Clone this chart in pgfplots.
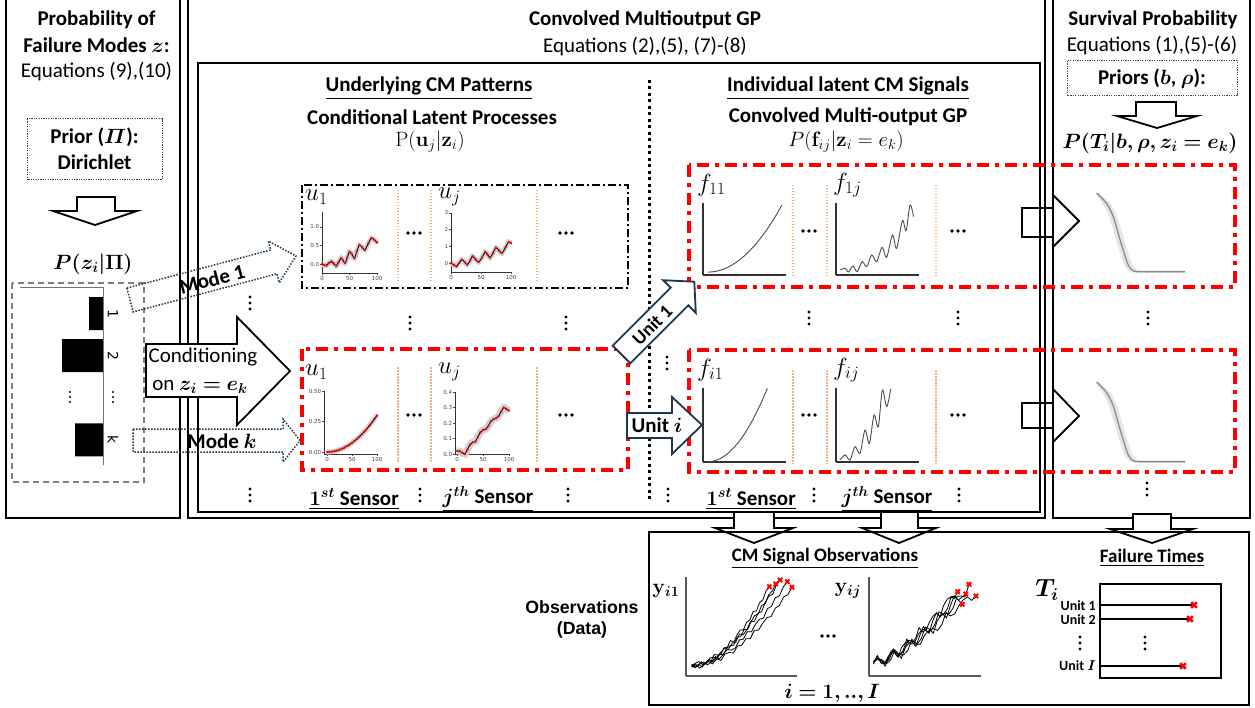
\documentclass[border=0pt]{standalone}
\usepackage{amsmath}
\usepackage{bm}
\usepackage[no-math]{fontspec}
\setmainfont{Carlito}
\newfontfamily\arialfont{Liberation Sans}
\newfontfamily\dejavu{DejaVu Sans}
\usepackage{pgfplots}
\pgfplotsset{compat=1.18}
\usepackage{pgfplotstable}

\definecolor{navy}{RGB}{31,56,80}
\definecolor{lorange}{RGB}{244,177,131}
\definecolor{bandgray}{RGB}{208,208,208}

\newcommand\F[1]{\fontsize{#1}{#1}\selectfont}
% vertical and horizontal ellipsis marks
\def\vd(#1,#2){\fill (#1,#2-6) circle[radius=1.7pt] (#1,#2) circle[radius=1.7pt] (#1,#2+6) circle[radius=1.7pt];}
\def\hd(#1,#2){\fill (#1-6,#2) circle[radius=1.8pt] (#1,#2) circle[radius=1.8pt] (#1+6,#2) circle[radius=1.8pt];}

% latent process u_1, mode 1
\pgfplotstableread{
x y
0 0.00
4 -0.03
8 -0.04
12 0.02
17 0.07
21 0.02
26 -0.05
30 0.05
35 0.16
38 0.10
42 0.03
46 0.18
50 0.33
54 0.27
59 0.16
63 0.33
68 0.51
73 0.45
78 0.38
84 0.55
90 0.70
95 0.65
100 0.58
}\uoneA
% latent process u_j, mode 1
\pgfplotstableread{
x y
0 0.00
5 -0.12
9 -0.20
14 0.02
18 0.20
23 0.05
27 -0.10
32 0.15
36 0.40
41 0.22
46 0.06
52 0.35
57 0.66
61 0.50
65 0.32
70 0.60
75 0.92
80 0.75
85 0.60
91 0.95
96 1.26
100 1.20
}\ujA
% latent process u_1, mode k
\pgfplotstableread{
x y
0 0.000
5 0.001
10 0.003
15 0.007
20 0.012
25 0.019
30 0.027
35 0.037
40 0.048
45 0.061
50 0.075
55 0.091
60 0.108
65 0.127
70 0.147
75 0.169
80 0.192
85 0.217
90 0.243
95 0.271
100 0.300
}\uoneB
% latent process u_j, mode k
\pgfplotstableread{
x y
0 0.020
5 0.018
10 0.008
15 0.000
20 0.030
25 0.060
30 0.075
35 0.080
40 0.110
45 0.140
50 0.155
55 0.160
60 0.180
65 0.210
70 0.225
75 0.230
80 0.245
85 0.275
90 0.300
95 0.290
100 0.280
}\ujB

% observed signals, sensor 1
\pgfplotstableread{
x y
0.050 0.100
0.079 0.123
0.108 0.099
0.138 0.144
0.167 0.117
0.196 0.158
0.225 0.146
0.254 0.217
0.284 0.211
0.313 0.217
0.342 0.286
0.371 0.287
0.400 0.360
0.430 0.341
0.459 0.414
0.488 0.464
0.517 0.467
0.547 0.546
0.576 0.568
0.605 0.652
0.634 0.657
0.663 0.740
0.693 0.771
0.722 0.863
0.751 0.902
}\yA
\pgfplotstableread{
x y
0.050 0.105
0.082 0.083
0.113 0.120
0.145 0.090
0.176 0.133
0.208 0.165
0.239 0.144
0.271 0.181
0.303 0.226
0.334 0.209
0.366 0.279
0.397 0.306
0.429 0.311
0.461 0.393
0.492 0.398
0.524 0.470
0.555 0.469
0.587 0.551
0.618 0.610
0.650 0.626
0.682 0.714
0.713 0.730
0.745 0.822
0.776 0.857
0.808 0.929
}\yB
\pgfplotstableread{
x y
0.050 0.100
0.083 0.128
0.116 0.145
0.150 0.115
0.183 0.124
0.216 0.181
0.249 0.191
0.282 0.179
0.316 0.244
0.349 0.282
0.382 0.268
0.415 0.331
0.449 0.342
0.482 0.425
0.515 0.416
0.548 0.469
0.581 0.550
0.615 0.552
0.648 0.633
0.681 0.650
0.714 0.744
0.747 0.806
0.781 0.825
0.814 0.921
0.847 0.970
}\yC
\pgfplotstableread{
x y
0.050 0.120
0.086 0.088
0.122 0.120
0.158 0.140
0.194 0.114
0.230 0.141
0.266 0.195
0.302 0.173
0.338 0.228
0.374 0.266
0.410 0.261
0.446 0.285
0.482 0.365
0.517 0.373
0.553 0.448
0.589 0.446
0.625 0.521
0.661 0.573
0.697 0.583
0.733 0.680
0.769 0.704
0.805 0.791
0.841 0.809
0.877 0.900
0.913 0.953
}\yD
\pgfplotstableread{
x y
0.050 0.090
0.088 0.113
0.125 0.079
0.163 0.119
0.201 0.147
0.239 0.123
0.276 0.172
0.314 0.158
0.352 0.222
0.389 0.238
0.427 0.232
0.465 0.303
0.503 0.312
0.540 0.377
0.578 0.376
0.616 0.461
0.653 0.464
0.691 0.533
0.729 0.590
0.766 0.600
0.804 0.685
0.842 0.714
0.880 0.799
0.917 0.821
0.955 0.896
}\yE

% observed signals, sensor j
\pgfplotstableread{
x y
0.040 0.145
0.071 0.166
0.103 0.158
0.134 0.133
0.165 0.166
0.197 0.251
0.228 0.244
0.259 0.188
0.291 0.289
0.322 0.332
0.353 0.342
0.385 0.333
0.416 0.380
0.447 0.489
0.479 0.444
0.510 0.466
0.541 0.548
0.573 0.607
0.604 0.637
0.635 0.598
0.667 0.716
0.698 0.774
0.729 0.798
0.761 0.784
0.792 0.852
}\zP
\pgfplotstableread{
x y
0.040 0.120
0.073 0.206
0.106 0.133
0.139 0.123
0.172 0.201
0.205 0.231
0.238 0.239
0.271 0.208
0.304 0.254
0.337 0.372
0.370 0.322
0.404 0.328
0.437 0.415
0.470 0.464
0.503 0.474
0.536 0.431
0.569 0.558
0.602 0.637
0.635 0.602
0.668 0.628
0.701 0.681
0.734 0.804
0.767 0.803
0.800 0.764
0.833 0.724
}\zQ
\pgfplotstableread{
x y
0.040 0.150
0.074 0.176
0.109 0.168
0.143 0.098
0.177 0.191
0.212 0.266
0.246 0.204
0.280 0.218
0.315 0.264
0.349 0.362
0.383 0.352
0.418 0.298
0.452 0.405
0.486 0.499
0.521 0.444
0.555 0.461
0.589 0.523
0.624 0.647
0.658 0.627
0.692 0.588
0.727 0.711
0.761 0.809
0.795 0.768
0.830 0.794
0.864 0.828
}\zR
\pgfplotstableread{
x y
0.040 0.130
0.076 0.201
0.111 0.128
0.147 0.133
0.182 0.171
0.218 0.271
0.253 0.234
0.289 0.178
0.324 0.289
0.360 0.337
0.395 0.352
0.431 0.323
0.466 0.375
0.502 0.494
0.538 0.474
0.573 0.431
0.609 0.558
0.644 0.617
0.680 0.632
0.715 0.628
0.751 0.686
0.786 0.804
0.822 0.808
0.857 0.799
0.893 0.926
}\zS
\pgfplotstableread{
x y
0.040 0.140
0.078 0.171
0.116 0.163
0.154 0.123
0.193 0.161
0.231 0.261
0.269 0.214
0.307 0.213
0.345 0.254
0.383 0.372
0.421 0.317
0.459 0.323
0.498 0.415
0.536 0.459
0.574 0.479
0.612 0.461
0.650 0.518
0.688 0.642
0.726 0.607
0.765 0.628
0.803 0.711
0.841 0.769
0.879 0.798
0.917 0.764
0.955 0.808
}\zT

\pgfplotsset{
  gp/.style={scale only axis, anchor=south west, axis lines=left,
    axis line style={-, black!80, line width=0.8pt},
    tick align=outside, major tick length=2pt,
    tick style={black!70, line width=0.5pt},
    ticklabel style={font=\dejavu\F{5.5}, text=black!75, inner sep=0.8pt},
    /pgf/number format/assume math mode=true,
    xtick={0,50,100}, clip=false},
  sk/.style={scale only axis, anchor=south west, axis lines=left,
    axis line style={-, black!80, line width=1.1pt},
    xtick=\empty, ytick=\empty, xmin=0, xmax=1, ymin=0, ymax=1, clip=false},
  sv/.style={scale only axis, anchor=south west, hide axis,
    xmin=0, xmax=100, ymin=0, ymax=1, clip=false},
}

\begin{document}
\begin{tikzpicture}[x=1pt, y=-1pt, line join=miter]
\path[use as bounding box] (0,0) rectangle (1255,708);
\tikzset{t/.style={inner sep=0pt, anchor=center}}

% ---------- frames ----------
\draw[line width=2pt] (6,-3) -- (6,518) -- (180,518) -- (180,-3);
\draw[line width=2pt] (188,-3) -- (188,518) -- (1045,518) -- (1045,-3);
\draw[line width=2pt] (1053,-3) -- (1053,518) -- (1250,518) -- (1250,-3);
\draw[line width=2pt] (198,63) rectangle (1040,512);
\draw[line width=3pt, dash pattern=on 3pt off 3.5pt] (649,80) -- (649,502);

% right-pointing arrows into the survival panel
\draw[line width=1.8pt] (1022,208) -- (1053,208) -- (1053,195) -- (1079,221) -- (1053,247) -- (1053,237) -- (1022,237) -- cycle;
\draw[line width=1.8pt] (1022,403) -- (1053,403) -- (1053,389) -- (1079,416) -- (1053,442) -- (1053,428) -- (1022,428) -- cycle;

% ---------- left panel ----------
\node[t, font=\bfseries\F{21}] at (96.5,20) {Probability of};
\node[t, font=\bfseries\F{21}] at (96.5,45) {Failure Modes $\bm{z}$:};
\node[t, font=\F{21}] at (96.5,72) {Equations (9),(10)};
\draw[black!75, line width=1pt, dash pattern=on 1.2pt off 1.2pt] (27,119) rectangle (162,180);
\node[t, font=\bfseries\F{21}] at (94.5,137) {Prior ($\bm{\varPi}$):};
\node[t, font=\bfseries\F{21}] at (94.5,162) {Dirichlet};
\draw[line width=1.8pt, fill=white] (77,197) -- (115,197) -- (115,211) -- (137,211) -- (95,225) -- (53,211) -- (77,211) -- cycle;
\node[t, font=\F{22}] at (93,264) {$\bm{P(z_i|\Pi)}$};
\draw[black!50, line width=1.5pt, dash pattern=on 6pt off 4pt] (12,283) rectangle (144,482);

\coordinate (bz) at (20,465);
\begin{axis}[scale only axis, anchor=south west, at={(bz)}, width=83pt, height=177pt,
  hide axis, clip=false, xmin=-83, xmax=0, ymin=-4.595, ymax=-0.393]
\addplot[xbar, bar width=33pt, fill=black, draw=none] coordinates {(-14,-1) (-41,-2) (-28,-4)};
\draw[black!55, line width=1pt] (axis cs:0,-4.595) -- (axis cs:0,-0.393) -- (axis cs:-83,-0.393);
\node[rotate=-90, font=\dejavu\F{14}] at ([xshift=10pt]axis cs:0,-1) {1};
\node[rotate=-90, font=\dejavu\F{14}] at ([xshift=10pt]axis cs:0,-2) {2};
\node[rotate=-90, font=\dejavu\F{14}] at ([xshift=10pt]axis cs:0,-4) {k};
\end{axis}
\fill (113,392) circle[radius=1.1pt] (113,397) circle[radius=1.1pt] (113,402) circle[radius=1.1pt];
\fill (70,392) circle[radius=1.1pt] (70,397) circle[radius=1.1pt] (70,402) circle[radius=1.1pt];

% ---------- centre panel headings ----------
\node[t, font=\bfseries\F{21}] at (645,20) {Convolved Multioutput GP};
\node[t, font=\F{21}] at (645,47) {Equations (2),(5), (7)-(8)};
\node[t, font=\bfseries\F{21}] at (429,88) {\underline{Underlying CM Patterns}};
\node[t, font=\bfseries\F{21}] at (432,117) {Conditional Latent Processes};
\node[t, font=\F{22}] at (430,142) {$\mathrm{P}(\mathbf{u}_j|\mathbf{z}_i)$};
\node[t, font=\bfseries\F{21}] at (848,88) {\underline{Individual latent CM Signals}};
\node[t, font=\bfseries\F{21}] at (848,117) {Convolved Multi-output GP};
\node[t, font=\F{22}] at (846,142) {$P(\mathbf{f}_{ij}|\mathbf{z}_i=e_k)$};

% pattern boxes
\draw[line width=1.8pt, dash pattern=on 8pt off 3pt on 2pt off 3pt] (302,185) rectangle (628,288);
\draw[red, line width=4pt, dash pattern=on 12pt off 6pt on 4pt off 6pt] (302,349) rectangle (628,470);
\draw[red, line width=4pt, dash pattern=on 12pt off 6pt on 4pt off 6pt] (689,165) rectangle (1235,287);
\draw[red, line width=4pt, dash pattern=on 12pt off 6pt on 4pt off 6pt] (689,350) rectangle (1235,472);

% orange separators
\foreach \xx in {398,431,537} {
  \draw[lorange, line width=1.5pt, dash pattern=on 1.5pt off 1.5pt] (\xx,190) -- (\xx,283);
  \draw[lorange, line width=1.5pt, dash pattern=on 1.5pt off 1.5pt] (\xx,367) -- (\xx,462);
}
\foreach \xx in {793,827,936} {
  \draw[lorange, line width=1.5pt, dash pattern=on 1.5pt off 1.5pt] (\xx,185) -- (\xx,278);
  \draw[lorange, line width=1.5pt, dash pattern=on 1.5pt off 1.5pt] (\xx,370) -- (\xx,464);
}

% subplot titles
\node[anchor=west, inner sep=0pt, font=\F{26}] at (305,197) {$u_1$};
\node[anchor=west, inner sep=0pt, font=\F{26}] at (438,197) {$u_j$};
\node[anchor=west, inner sep=0pt, font=\F{26}] at (305,372) {$u_1$};
\node[anchor=west, inner sep=0pt, font=\F{26}] at (438,372) {$u_j$};
\node[anchor=west, inner sep=0pt, font=\F{24}] at (697,185) {$f_{11}$};
\node[anchor=west, inner sep=0pt, font=\F{24}] at (833,185) {$f_{1j}$};
\node[anchor=west, inner sep=0pt, font=\F{24}] at (697,370) {$f_{i1}$};
\node[anchor=west, inner sep=0pt, font=\F{24}] at (833,370) {$f_{ij}$};

% latent processes
\coordinate (ua) at (322,273);
\coordinate (ub) at (451,272);
\coordinate (uc) at (324,454);
\coordinate (ud) at (455,454);
\begin{axis}[gp, at={(ua)}, width=55pt, height=61pt, xmin=0, xmax=100, ymin=-0.24, ymax=1.4,
  ytick={0,0.5,1}, yticklabels={0.0,0.5,1.0}]
\addplot[bandgray, line width=5pt, smooth] table {\uoneA};
\addplot[black, line width=0.9pt, smooth] table {\uoneA};
\addplot[only marks, mark=*, mark size=1pt, red] table {\uoneA};
\end{axis}
\begin{axis}[gp, at={(ub)}, width=60pt, height=59pt, xmin=0, xmax=100, ymin=-0.54, ymax=3.0,
  ytick={0,1,2,3}]
\addplot[bandgray, line width=5pt, smooth] table {\ujA};
\addplot[black, line width=0.9pt, smooth] table {\ujA};
\addplot[only marks, mark=*, mark size=1pt, red] table {\ujA};
\end{axis}
\begin{axis}[gp, at={(uc)}, width=53pt, height=63pt, xmin=-6, xmax=100, ymin=-0.016, ymax=0.5,
  ytick={0,0.25,0.5}, yticklabels={0.00,0.25,0.50}]
\addplot[bandgray, line width=5pt, smooth] table {\uoneB};
\addplot[black, line width=0.9pt, smooth] table {\uoneB};
\addplot[only marks, mark=*, mark size=1pt, red] table {\uoneB};
\end{axis}
\begin{axis}[gp, at={(ud)}, width=54pt, height=62pt, xmin=-4, xmax=100, ymin=0, ymax=0.4,
  ytick={0,0.1,0.2,0.3,0.4}, yticklabels={0.0,0.1,0.2,0.3,0.4}]
\addplot[bandgray, line width=7pt, smooth] table {\ujB};
\addplot[black, line width=0.9pt, smooth] table {\ujB};
\addplot[only marks, mark=*, mark size=1pt, red] table {\ujB};
\end{axis}

% individual latent signals
\coordinate (fa) at (703,275);
\coordinate (fb) at (836,275);
\coordinate (fc) at (703,462);
\coordinate (fd) at (836,462);
\begin{axis}[sk, at={(fa)}, width=83pt, height=72pt]
\addplot[black!70, line width=0.9pt, smooth] coordinates {(0.060,0.040) (0.149,0.049) (0.238,0.077) (0.327,0.124) (0.416,0.189) (0.505,0.273) (0.594,0.375) (0.683,0.496) (0.772,0.635) (0.861,0.793) (0.950,0.970)};
\end{axis}
\begin{axis}[sk, at={(fb)}, width=83pt, height=72pt]
\addplot[black!70, line width=0.9pt, smooth] coordinates {(0.048,0.069) (0.110,0.093) (0.150,0.042) (0.205,0.125) (0.255,0.046) (0.315,0.185) (0.370,0.116) (0.430,0.278) (0.490,0.185) (0.555,0.384) (0.610,0.245) (0.680,0.556) (0.730,0.370) (0.800,0.755) (0.845,0.616) (0.892,0.972) (0.935,0.81)};
\end{axis}
\begin{axis}[sk, at={(fc)}, width=83pt, height=74pt]
\addplot[black!70, line width=0.9pt, smooth] coordinates {(0.060,0.004) (0.132,0.014) (0.203,0.044) (0.275,0.094) (0.346,0.164) (0.418,0.253) (0.489,0.362) (0.561,0.492) (0.632,0.641) (0.704,0.809) (0.775,0.996)};
\end{axis}
\begin{axis}[sk, at={(fd)}, width=83pt, height=74pt]
\addplot[black!70, line width=0.9pt, smooth] coordinates {(0.048,0.027) (0.108,0.095) (0.169,0.027) (0.229,0.207) (0.289,0.117) (0.349,0.432) (0.402,0.252) (0.458,0.635) (0.510,0.477) (0.558,0.973) (0.611,0.748) (0.659,0.986)};
\end{axis}

% arrows into the pattern panels
\draw[navy, line width=1.5pt, dash pattern=on 1.5pt off 1.5pt] (126.9,288.1) -- (270.6,250.0) -- (268.3,241.1) -- (296,256) -- (279.3,282.7) -- (277.0,273.8) -- (133.1,311.9) -- cycle;
\node[t, rotate=14.8, font=\bfseries\F{21}] at (212,279) {Mode 1};
\draw[navy, line width=1.5pt, dash pattern=on 1.5pt off 1.5pt] (133,429) -- (283,429) -- (283,419) -- (300,440.5) -- (283,462) -- (283,452) -- (133,452) -- cycle;
\node[t, font=\bfseries\F{21}] at (222,441) {Mode $\bm{k}$};
\draw[line width=1.8pt, fill=white] (146,344) -- (237,344) -- (237,317) -- (290,371) -- (237,425) -- (237,397) -- (146,397) -- cycle;
\node[t, font=\F{21}] at (203,357) {Conditioning};
\node[t, font=\F{21}] at (200,387) {on $\bm{z_i=e_k}$};

\draw[navy, line width=1.8pt, fill=white] (612.7,345.7) -- (670.7,287.7) -- (663.2,280.2) -- (694.3,281.7) -- (695.8,312.8) -- (688.3,305.3) -- (630.3,363.3) -- cycle;
\node[t, rotate=45, font=\bfseries\F{19}] at (652,325) {Unit 1};
\draw[navy, line width=1.8pt, fill=white] (627,413) -- (672,413) -- (672,397) -- (702,425) -- (672,454) -- (672,438) -- (627,438) -- cycle;
\node[t, font=\bfseries\F{21}] at (657,425) {Unit $\bm{i}$};

% ellipses
\hd(414,233) \hd(566,233) \hd(414,415) \hd(566,415)
\hd(809,231) \hd(958,231) \hd(809,415) \hd(958,415)
\vd(250,303) \vd(410,323) \vd(566,323)
\vd(809,318) \vd(958,318) \vd(667,363)
\vd(250,495) \vd(420,495) \vd(568,495)
\vd(668,495) \vd(814,495) \vd(959,495)
\vd(1148,318) \vd(1147,489)

% sensor labels
\node[t, font=\bfseries\F{21}] at (354,499) {\underline{$\bm{1^{st}}$ Sensor}};
\node[t, font=\bfseries\F{21}] at (488,499) {\underline{$\bm{j^{th}}$ Sensor}};
\node[t, font=\bfseries\F{21}] at (751,499) {\underline{$\bm{1^{st}}$ Sensor}};
\node[t, font=\bfseries\F{21}] at (887,499) {\underline{$\bm{j^{th}}$ Sensor}};

% ---------- right panel ----------
\node[t, font=\bfseries\F{21}] at (1153,20) {Survival Probability};
\node[t, font=\F{21}] at (1152,46) {Equations (1),(5)-(6)};
\draw[black!75, line width=1pt, dash pattern=on 1.2pt off 1.2pt] (1067,61) rectangle (1237,96);
\node[t, font=\bfseries\F{21}] at (1152,79) {Priors ($\bm{b}$, $\bm{\rho}$):};
\draw[line width=1.8pt, fill=white] (1136,102) -- (1176,102) -- (1176,116) -- (1197,116) -- (1157,128) -- (1117,116) -- (1136,116) -- cycle;
\node[t, font=\F{22}] at (1150,143) {$\bm{P(T_i|b,\rho,z_i=e_k)}$};

\coordinate (sa) at (1090,275);
\coordinate (sb) at (1090,465);
\begin{axis}[sv, at={(sa)}, width=100pt, height=82pt]
\addplot[fill=black!10, draw=none] coordinates {(5,1.0) (9,1.0) (20.7,0.87) (27.3,0.71) (32.3,0.5) (37.3,0.30) (42.3,0.12) (47.3,0.06) (57,0.055) (95,0.055) (95,0.025) (50,0.025) (40,0.035) (34.3,0.12) (29.3,0.30) (24.3,0.5) (19.3,0.71) (12.7,0.87)} -- cycle;
\addplot[black!45, line width=1.3pt, smooth] coordinates {(6.7,1.0) (16.7,0.87) (23.3,0.71) (28.3,0.5) (33.3,0.30) (38.3,0.12) (43.3,0.05) (53.3,0.04) (95,0.04)};
\end{axis}
\begin{axis}[sv, at={(sb)}, width=100pt, height=83pt]
\addplot[fill=black!10, draw=none] coordinates {(5,1.0) (9,1.0) (20.7,0.87) (27.3,0.71) (32.3,0.5) (37.3,0.30) (42.3,0.12) (47.3,0.06) (57,0.055) (95,0.055) (95,0.025) (50,0.025) (40,0.035) (34.3,0.12) (29.3,0.30) (24.3,0.5) (19.3,0.71) (12.7,0.87)} -- cycle;
\addplot[black!45, line width=1.3pt, smooth] coordinates {(6.7,1.0) (16.7,0.87) (23.3,0.71) (28.3,0.5) (33.3,0.30) (38.3,0.12) (43.3,0.05) (53.3,0.04) (95,0.04)};
\end{axis}

% ---------- observations panel ----------
\draw[line width=1.8pt, fill=white] (734,512) -- (774,512) -- (774,528) -- (793,528) -- (754,543) -- (715,528) -- (734,528) -- cycle;
\draw[line width=1.8pt, fill=white] (881,512) -- (918,512) -- (918,528) -- (936,528) -- (899,543) -- (862,528) -- (881,528) -- cycle;
\draw[line width=1.8pt, fill=white] (1133,514) -- (1171,514) -- (1171,529) -- (1193,529) -- (1152,543) -- (1110,529) -- (1133,529) -- cycle;
\draw[line width=2pt] (649,532) rectangle (1249,705);

\node[t, font=\arialfont\bfseries\F{17.7}] at (582,607) {Observations};
\node[t, font=\arialfont\bfseries\F{17.7}] at (582,630) {(Data)};
\node[t, font=\bfseries\F{19}] at (825,558) {\underline{CM Signal Observations}};
\node[t, font=\bfseries\F{19}] at (1152,558) {\underline{Failure Times}};
\node[t, font=\F{22}] at (666,591) {$\mathbf{y}_{\bm{i1}}$};
\node[t, font=\F{22}] at (848,591) {$\mathbf{y}_{\bm{ij}}$};
\hd(828,636)
\node[t, font=\F{21}] at (832,693) {$\bm{i=1,..,I}$};

\coordinate (oa) at (686,676);
\coordinate (ob) at (869,676);
\begin{axis}[sk, at={(oa)}, width=111pt, height=99pt, axis line style={-, black!65, line width=1.2pt}]
\addplot[black, line width=0.8pt] table {\yA};
\addplot[black, line width=0.8pt] table {\yB};
\addplot[black, line width=0.8pt] table {\yC};
\addplot[black, line width=0.8pt] table {\yD};
\addplot[black, line width=0.8pt] table {\yE};
\addplot[red, only marks, mark=x, mark size=3pt, line width=2pt] coordinates {(0.751,0.902) (0.808,0.929) (0.847,0.970) (0.913,0.953) (0.955,0.896)};
\end{axis}
\begin{axis}[sk, at={(ob)}, width=112pt, height=99pt, axis line style={-, black!65, line width=1.2pt}]
\addplot[black, line width=0.8pt] table {\zP};
\addplot[black, line width=0.8pt] table {\zQ};
\addplot[black, line width=0.8pt] table {\zR};
\addplot[black, line width=0.8pt] table {\zS};
\addplot[black, line width=0.8pt] table {\zT};
\addplot[red, only marks, mark=x, mark size=3pt, line width=2pt] coordinates {(0.792,0.852) (0.833,0.724) (0.864,0.828) (0.893,0.926) (0.955,0.808)};
\end{axis}

% failure times
\node[t, font=\F{24}] at (1047,590) {$\bm{T_i}$};
\node[anchor=east, inner sep=0pt, font=\bfseries\F{14}] at (1096,606) {Unit 1};
\node[anchor=east, inner sep=0pt, font=\bfseries\F{14}] at (1096,620) {Unit 2};
\node[anchor=east, inner sep=0pt, font=\bfseries\F{14}] at (1096,666) {Unit $\bm{I}$};
\vd(1080,643) \vd(1145,643)
\coordinate (ft) at (1100,678);
\begin{axis}[scale only axis, anchor=south west, at={(ft)}, width=121pt, height=94pt,
  xmin=0, xmax=121, ymin=0, ymax=94, xtick=\empty, ytick=\empty, clip=false,
  axis line style={line width=1.8pt}]
\addplot[black, line width=1.8pt] coordinates {(0,73) (94,73)};
\addplot[black, line width=1.8pt] coordinates {(0,59) (90,59)};
\addplot[black, line width=1.8pt] coordinates {(0,12) (83,12)};
\addplot[red, only marks, mark=x, mark size=4pt, line width=2.5pt] coordinates {(94,73) (90,59) (83,12)};
\end{axis}
\end{tikzpicture}
\end{document}
